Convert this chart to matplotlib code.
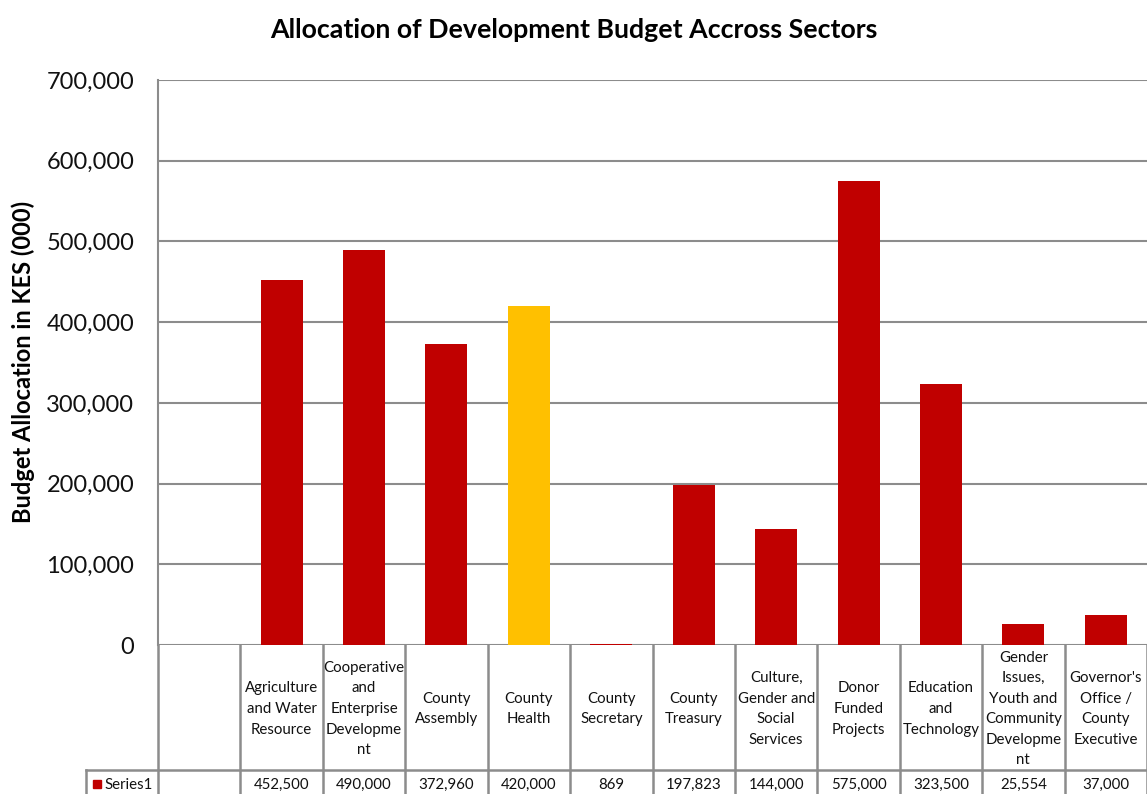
import matplotlib
matplotlib.use("Agg")
import matplotlib.pyplot as plt
import matplotlib.transforms as mtransforms
from matplotlib.patches import Rectangle
from matplotlib.ticker import FuncFormatter

# Sector names as printed in the table header (with their wrapped lines)
sectors = [
    "Agriculture\nand Water\nResource",
    "Cooperative\nand\nEnterprise\nDevelopme\nnt",
    "County\nAssembly",
    "County\nHealth",
    "County\nSecretary",
    "County\nTreasury",
    "Culture,\nGender and\nSocial\nServices",
    "Donor\nFunded\nProjects",
    "Education\nand\nTechnology",
    "Gender\nIssues,\nYouth and\nCommunity\nDevelopme\nnt",
    "Governor's\nOffice /\nCounty\nExecutive",
]
# Development budget per sector, KES thousands
budget = [452500, 490000, 372960, 420000, 869, 197823, 144000, 575000, 323500, 25554, 37000]
series_name = "Series1"
highlight = "County\nHealth"
y_ticks = [0, 100000, 200000, 300000, 400000, 500000, 600000, 700000]

RED = "#C00000"
GOLD = "#FFC000"
GRID = "#8C8C8C"

plt.rcParams["font.family"] = ["Lato", "DejaVu Sans"]

W, H = 1147, 794
fig = plt.figure(figsize=(W / 100, H / 100), dpi=100)
ax = fig.add_axes([158 / W, 1 - 645 / H, (W - 158) / W, (645 - 80) / H])

# first slot of the category axis is left empty
positions = list(range(1, len(sectors) + 1))
colors = [GOLD if s == highlight else RED for s in sectors]
ax.bar(positions, budget, width=0.51, color=colors, zorder=3)

ax.set_xlim(-0.5, len(sectors) + 0.5)
ax.set_ylim(0, 700000)
ax.set_yticks(y_ticks)
ax.yaxis.set_major_formatter(FuncFormatter(lambda v, _: f"{int(v):,}"))
ax.tick_params(axis="y", length=0, pad=17, labelsize=17, labelcolor="#111111")
ax.set_xticks([])
ax.grid(axis="y", color=GRID, linewidth=1.5, zorder=0)
for side in ["top", "right", "bottom"]:
    ax.spines[side].set_visible(False)
ax.spines["left"].set_color(GRID)
ax.spines["left"].set_linewidth(1.5)

fig.text(574 / W, 1 - 30 / H, "Allocation of Development Budget Accross Sectors",
         ha="center", va="center", fontsize=19.3, fontweight="bold", color="#000000")
fig.text(23 / W, 1 - 362 / H, "Budget Allocation in KES (000)", rotation=90,
         ha="center", va="center", fontsize=17, fontweight="bold", color="#000000")

# data table below the plot area
tr = mtransforms.blended_transform_factory(ax.transData, ax.transAxes)
ax_h = 645 - 80
hdr_bot = -(770 - 645) / ax_h
row_bot = -(800 - 645) / ax_h
key_left = -0.5 - (158 - 86) / 82.4
n = len(sectors)
line_kw = dict(color=GRID, linewidth=1.8, transform=tr, clip_on=False, zorder=1)

for k in range(n + 2):
    xk = -0.5 + k
    ax.plot([xk, xk], [0, row_bot], **line_kw)
ax.plot([key_left, key_left], [hdr_bot, row_bot], **line_kw)
ax.plot([key_left, n + 0.5], [hdr_bot, hdr_bot], **line_kw)

val_y = -(785 - 645) / ax_h
hdr_mid = -(709 - 645) / ax_h
for p, name, val in zip(positions, sectors, budget):
    ax.text(p, hdr_mid, name, transform=tr, ha="center", va="center",
            fontsize=10.8, linespacing=1.6, color="#111111", clip_on=False)
    ax.text(p, val_y, f"{val:,}", transform=tr,
            ha="center", va="center", fontsize=10.8, color="#111111", clip_on=False)

# legend key in the row header
fig.patches.append(Rectangle((93 / W, 1 - 788 / H), 8 / W, 8 / H, color=RED,
                             transform=fig.transFigure))
fig.text(104 / W, 1 - 785 / H, series_name, ha="left", va="center",
         fontsize=10.8, color="#111111")

fig.savefig("out.png", dpi=100, facecolor="white")
